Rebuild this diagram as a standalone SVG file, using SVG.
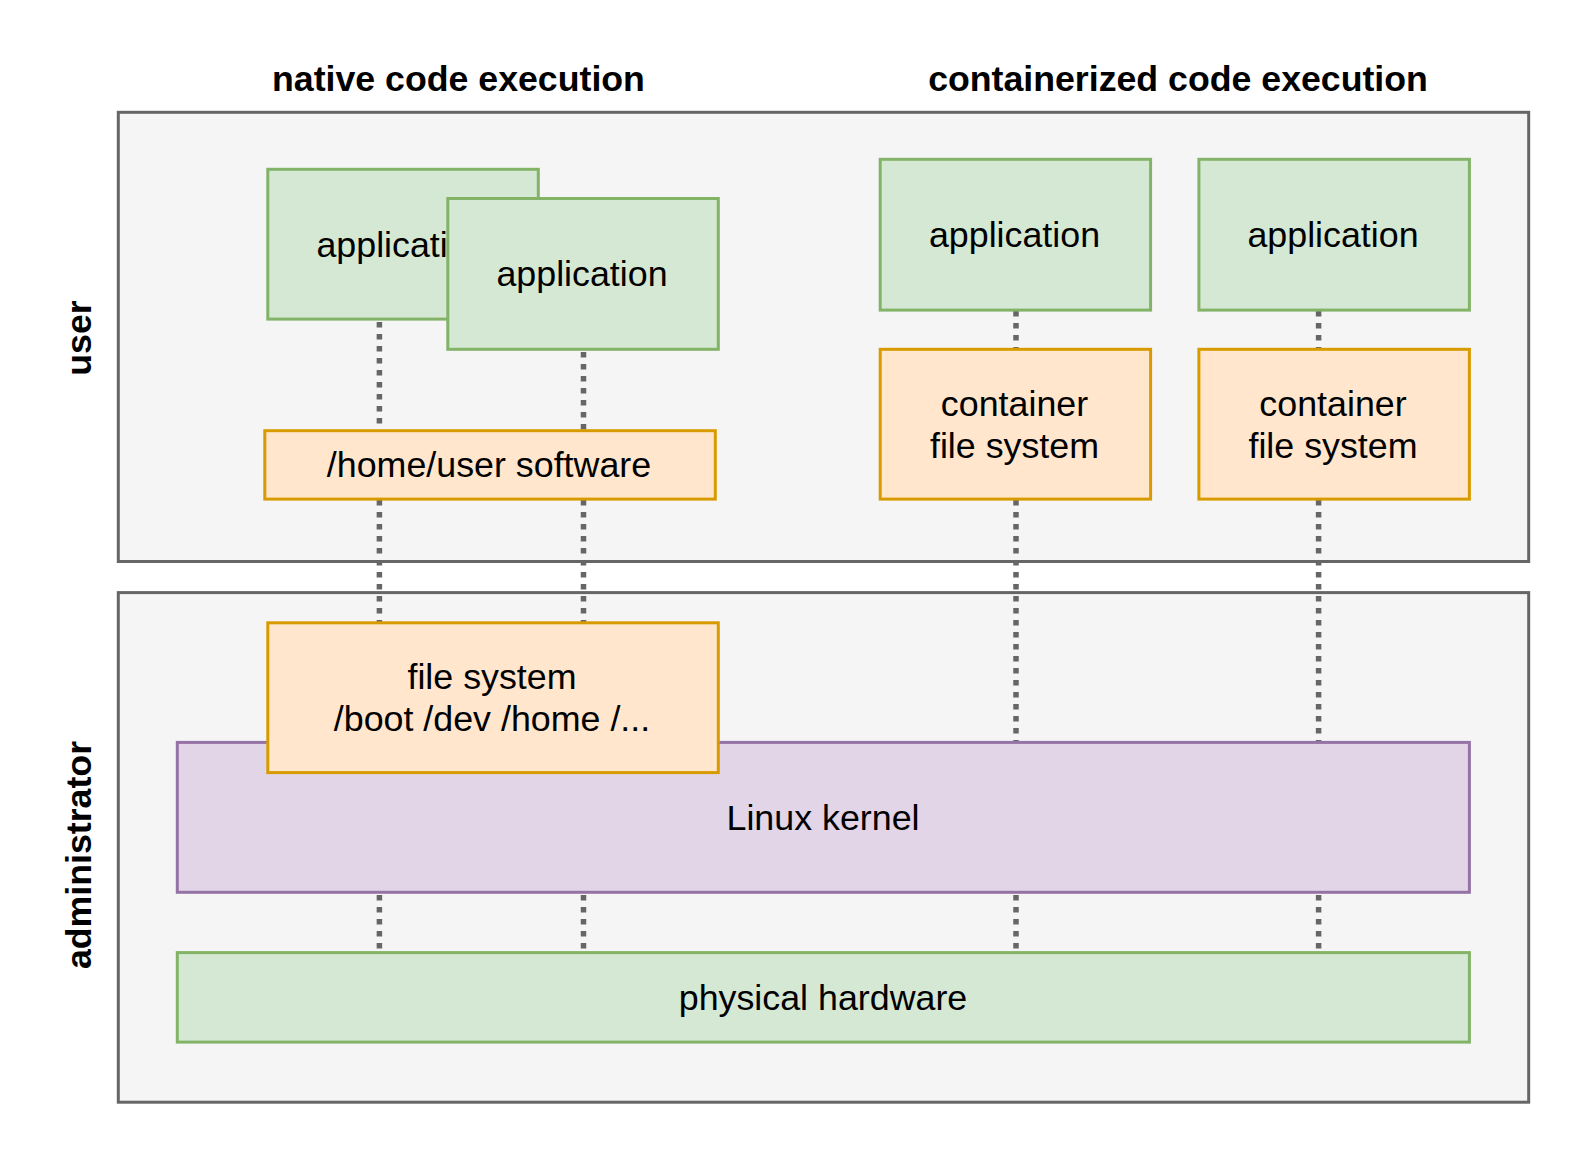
<svg xmlns="http://www.w3.org/2000/svg" width="1575" height="1149" viewBox="0 0 1575 1149">
<style>
text{font-family:"Liberation Sans",Arial,Helvetica,sans-serif;font-size:35.8px;fill:#000;text-anchor:middle}
.b{font-weight:bold;font-size:35.7px}
.panel{fill:#f5f5f5;stroke:#666666;stroke-width:3}
.g{fill:#d5e8d4;stroke:#82b366;stroke-width:3}
.o{fill:#ffe6cc;stroke:#d79b00;stroke-width:3}
.p{fill:#e1d5e7;stroke:#9673a6;stroke-width:3}
.c{stroke:#666666;stroke-width:5.5;stroke-dasharray:5.5 6.5;fill:none}
</style>
<rect width="1575" height="1149" fill="#ffffff"/>
<g id="headers">
<text class="b" x="458.5" y="90.5">native code execution</text>
<text class="b" x="1178" y="90.5">containerized code execution</text>
</g>
<g id="panel-user">
<rect class="panel" x="118.3" y="112.3" width="1410.4" height="449.2"/>
<text class="b" transform="translate(91,338) rotate(-90)">user</text>
</g>
<g id="panel-admin">
<rect class="panel" x="118.3" y="592.6" width="1410.4" height="509.6"/>
<text class="b" transform="translate(91,855) rotate(-90)">administrator</text>
</g>
<g id="connectors">
<line class="c" x1="379.4" y1="322" x2="379.4" y2="430.7"/>
<line class="c" x1="379.4" y1="500" x2="379.4" y2="622.8"/>
<line class="c" x1="379.4" y1="895" x2="379.4" y2="952.6"/>
<line class="c" x1="583.5" y1="352" x2="583.5" y2="430.7"/>
<line class="c" x1="583.5" y1="500" x2="583.5" y2="622.8"/>
<line class="c" x1="583.5" y1="895" x2="583.5" y2="952.6"/>
<line class="c" x1="1016" y1="311" x2="1016" y2="349.3"/>
<line class="c" x1="1016" y1="500" x2="1016" y2="742.4"/>
<line class="c" x1="1016" y1="895" x2="1016" y2="952.6"/>
<line class="c" x1="1318.6" y1="311" x2="1318.6" y2="349.3"/>
<line class="c" x1="1318.6" y1="500" x2="1318.6" y2="742.4"/>
<line class="c" x1="1318.6" y1="895" x2="1318.6" y2="952.6"/>
</g>
<g id="app1">
<rect class="g" x="267.8" y="169.3" width="270.5" height="149.8"/>
<text x="402" y="256.7">application</text>
</g>
<g id="app2">
<rect class="g" x="447.8" y="198.5" width="270.5" height="150.8"/>
<text x="582" y="286.4">application</text>
</g>
<g id="home-user">
<rect class="o" x="264.8" y="430.7" width="450.5" height="68.4"/>
<text x="489" y="477.4">/home/user software</text>
</g>
<g id="app3">
<rect class="g" x="880.2" y="159.3" width="270.4" height="150.8"/>
<text x="1014.5" y="247.2">application</text>
</g>
<g id="app4">
<rect class="g" x="1198.9" y="159.3" width="270.5" height="150.8"/>
<text x="1333" y="247.2">application</text>
</g>
<g id="cfs1">
<rect class="o" x="880.2" y="349.3" width="270.4" height="149.8"/>
<text x="1014.5" y="415.7">container</text>
<text x="1014.5" y="457.7">file system</text>
</g>
<g id="cfs2">
<rect class="o" x="1198.9" y="349.3" width="270.5" height="149.8"/>
<text x="1333" y="415.7">container</text>
<text x="1333" y="457.7">file system</text>
</g>
<g id="kernel">
<rect class="p" x="177.3" y="742.4" width="1292.1" height="149.9"/>
<text x="823" y="829.9">Linux kernel</text>
</g>
<g id="filesystem">
<rect class="o" x="267.8" y="622.8" width="450.5" height="149.8"/>
<text x="492" y="689.2">file system</text>
<text x="492" y="731.2">/boot /dev /home /...</text>
</g>
<g id="hardware">
<rect class="g" x="177.3" y="952.6" width="1292.1" height="89.5"/>
<text x="823" y="1009.9">physical hardware</text>
</g>
</svg>
